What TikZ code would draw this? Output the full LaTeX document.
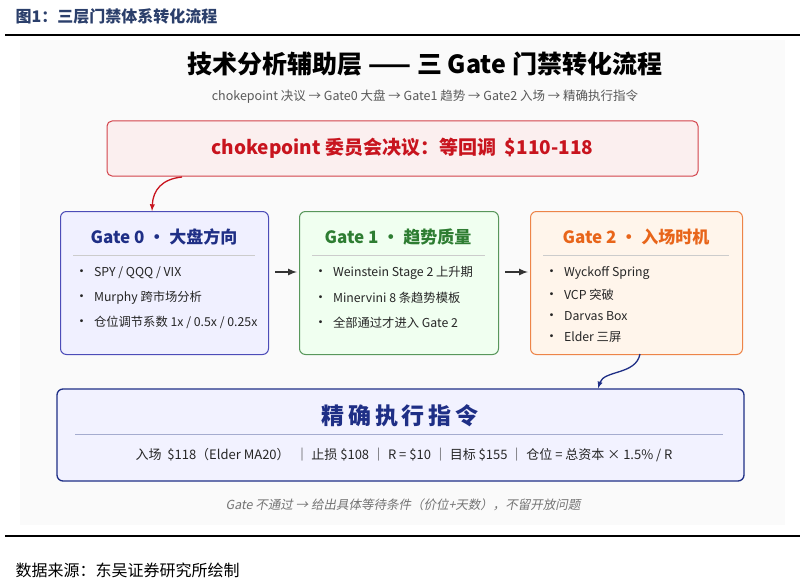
\documentclass[tikz,border=0pt]{standalone}
\usepackage{fontspec}
\setmainfont{Noto Sans CJK SC}
\usetikzlibrary{positioning}
\definecolor{navy}{HTML}{1F2F86}
\definecolor{gatered}{HTML}{C8141E}
\definecolor{gategreen}{HTML}{2E7D32}
\definecolor{gateorange}{HTML}{E8651A}
\definecolor{headblue}{HTML}{2B3F6B}
\newcommand{\fs}[1]{\fontsize{#1}{#1}\selectfont}
\newcommand{\dotitem}{{\fs{14}•}\ \ }

\begin{document}
\begin{tikzpicture}
    [
    x=1pt, y=-1pt,
    gate/.style = {draw, rounded corners=6pt, line width=1pt, minimum height=143pt, anchor=north west},
    gatetitle/.style = {font=\fs{17}\bfseries},
    item/.style = {anchor=west, font=\fs{12.3}, text=black!85},
    flow/.style = {->, line width=2pt, black!80, >=latex}
    ]
\useasboundingbox (0,0) rectangle (805,583);
\fill[black!2] (20,40) rectangle (785,525);
\node[anchor=west, font=\fs{16}\bfseries, text=headblue] (fig) at (12,16) {图1：三层门禁体系转化流程};
\draw[line width=1.5pt] (5,35) -- (800,35);
\draw[line width=1.5pt] (5,536) -- (800,536);
\node[anchor=west, font=\fs{16}] (src) at (12,570) {数据来源：东吴证券研究所绘制};

\node[font=\fs{25}\bfseries] (title) at (425,64) {技术分析辅助层 —— 三 Gate 门禁转化流程};
\node[font=\fs{12.5}, text=black!65] (sub) at (425,97) {chokepoint 决议 → Gate0 大盘 → Gate1 趋势 → Gate2 入场 → 精确执行指令};

\node[draw=gatered!80, fill=gatered!7, rounded corners=5pt, line width=1pt, minimum width=591pt, minimum height=55pt, font=\fs{19}\bfseries, text=gatered] (vote) at (402.5,148.5) {chokepoint 委员会决议：等回调 \ \$110-118};

% gates
\node[gate, draw=blue!60!black!70, fill=blue!6, minimum width=208pt] (g0) at (60,211) {};
\node[gate, draw=gategreen!80, fill=green!6, minimum width=199pt] (g1) at (299,211) {};
\node[gate, draw=gateorange!80, fill=orange!8, minimum width=212pt] (g2) at (530,211) {};

\node[gatetitle, text=navy] (t0) at (164,237) {Gate 0 · 大盘方向};
\node[gatetitle, text=gategreen] (t1) at (398,237) {Gate 1 · 趋势质量};
\node[gatetitle, text=gateorange] (t2) at (636,237) {Gate 2 · 入场时机};
\draw[black!20, line width=0.8pt] (73,255) -- (255,255);
\draw[black!20, line width=0.8pt] (312,255) -- (485,255);
\draw[black!20, line width=0.8pt] (543,255) -- (729,255);

\node[item] (a1) at (71,273) {\dotitem SPY / QQQ / VIX};
\node[item] (a2) at (71,298) {\dotitem Murphy 跨市场分析};
\node[item] (a3) at (71,322) {\dotitem 仓位调节系数 1x / 0.5x / 0.25x};
\node[item] (b1) at (310,273) {\dotitem Weinstein Stage 2 上升期};
\node[item] (b2) at (310,298) {\dotitem Minervini 8 条趋势模板};
\node[item] (b3) at (310,323) {\dotitem 全部通过才进入 Gate 2};
\node[item] (c1) at (541,273) {\dotitem Wyckoff Spring};
\node[item] (c2) at (541,295) {\dotitem VCP 突破};
\node[item] (c3) at (541,316) {\dotitem Darvas Box};
\node[item] (c4) at (541,337) {\dotitem Elder 三屏};

\draw[flow] (g0.east |- 0,272) ++(6,0) -- ++(22,0);
\draw[flow] (g1.east |- 0,272) ++(6,0) -- ++(23,0);

% final order
\node[draw=navy, fill=blue!5, rounded corners=6pt, line width=1.3pt, minimum width=687pt, minimum height=92pt] (exec) at (400.5,435) {};
\node[font=\fs{23}\bfseries, text=navy] (et) at (400,416) {精\,确\,执\,行\,指\,令};
\draw[navy!40, line width=1pt] (75,434) -- (723,434);
\node[font=\fs{13}, text=black!85] (ed) at (404,455) {入场 \ \$118（Elder MA20） \ ｜ 止损 \$108 ｜ R = \$10 ｜ 目标 \$155 ｜ 仓位 = 总资本 × 1.5\% / R};
\node[font=\fs{12.5}, text=black!55, xslant=0.2] (note) at (404,505) {Gate 不通过 → 给出具体等待条件（价位+天数），不留开放问题};

\coordinate (vs) at (182,177);
\coordinate (gs) at (640,354);
\draw[->, >=latex, gatered, line width=1.3pt] (vs) .. controls (162,179) and (153,190) .. (g0.north -| 152,0);
\draw[->, >=latex, navy, line width=1.3pt] (gs) .. controls (636,375) and (604,370) .. (exec.north -| 598,0);
\end{tikzpicture}
\end{document}
